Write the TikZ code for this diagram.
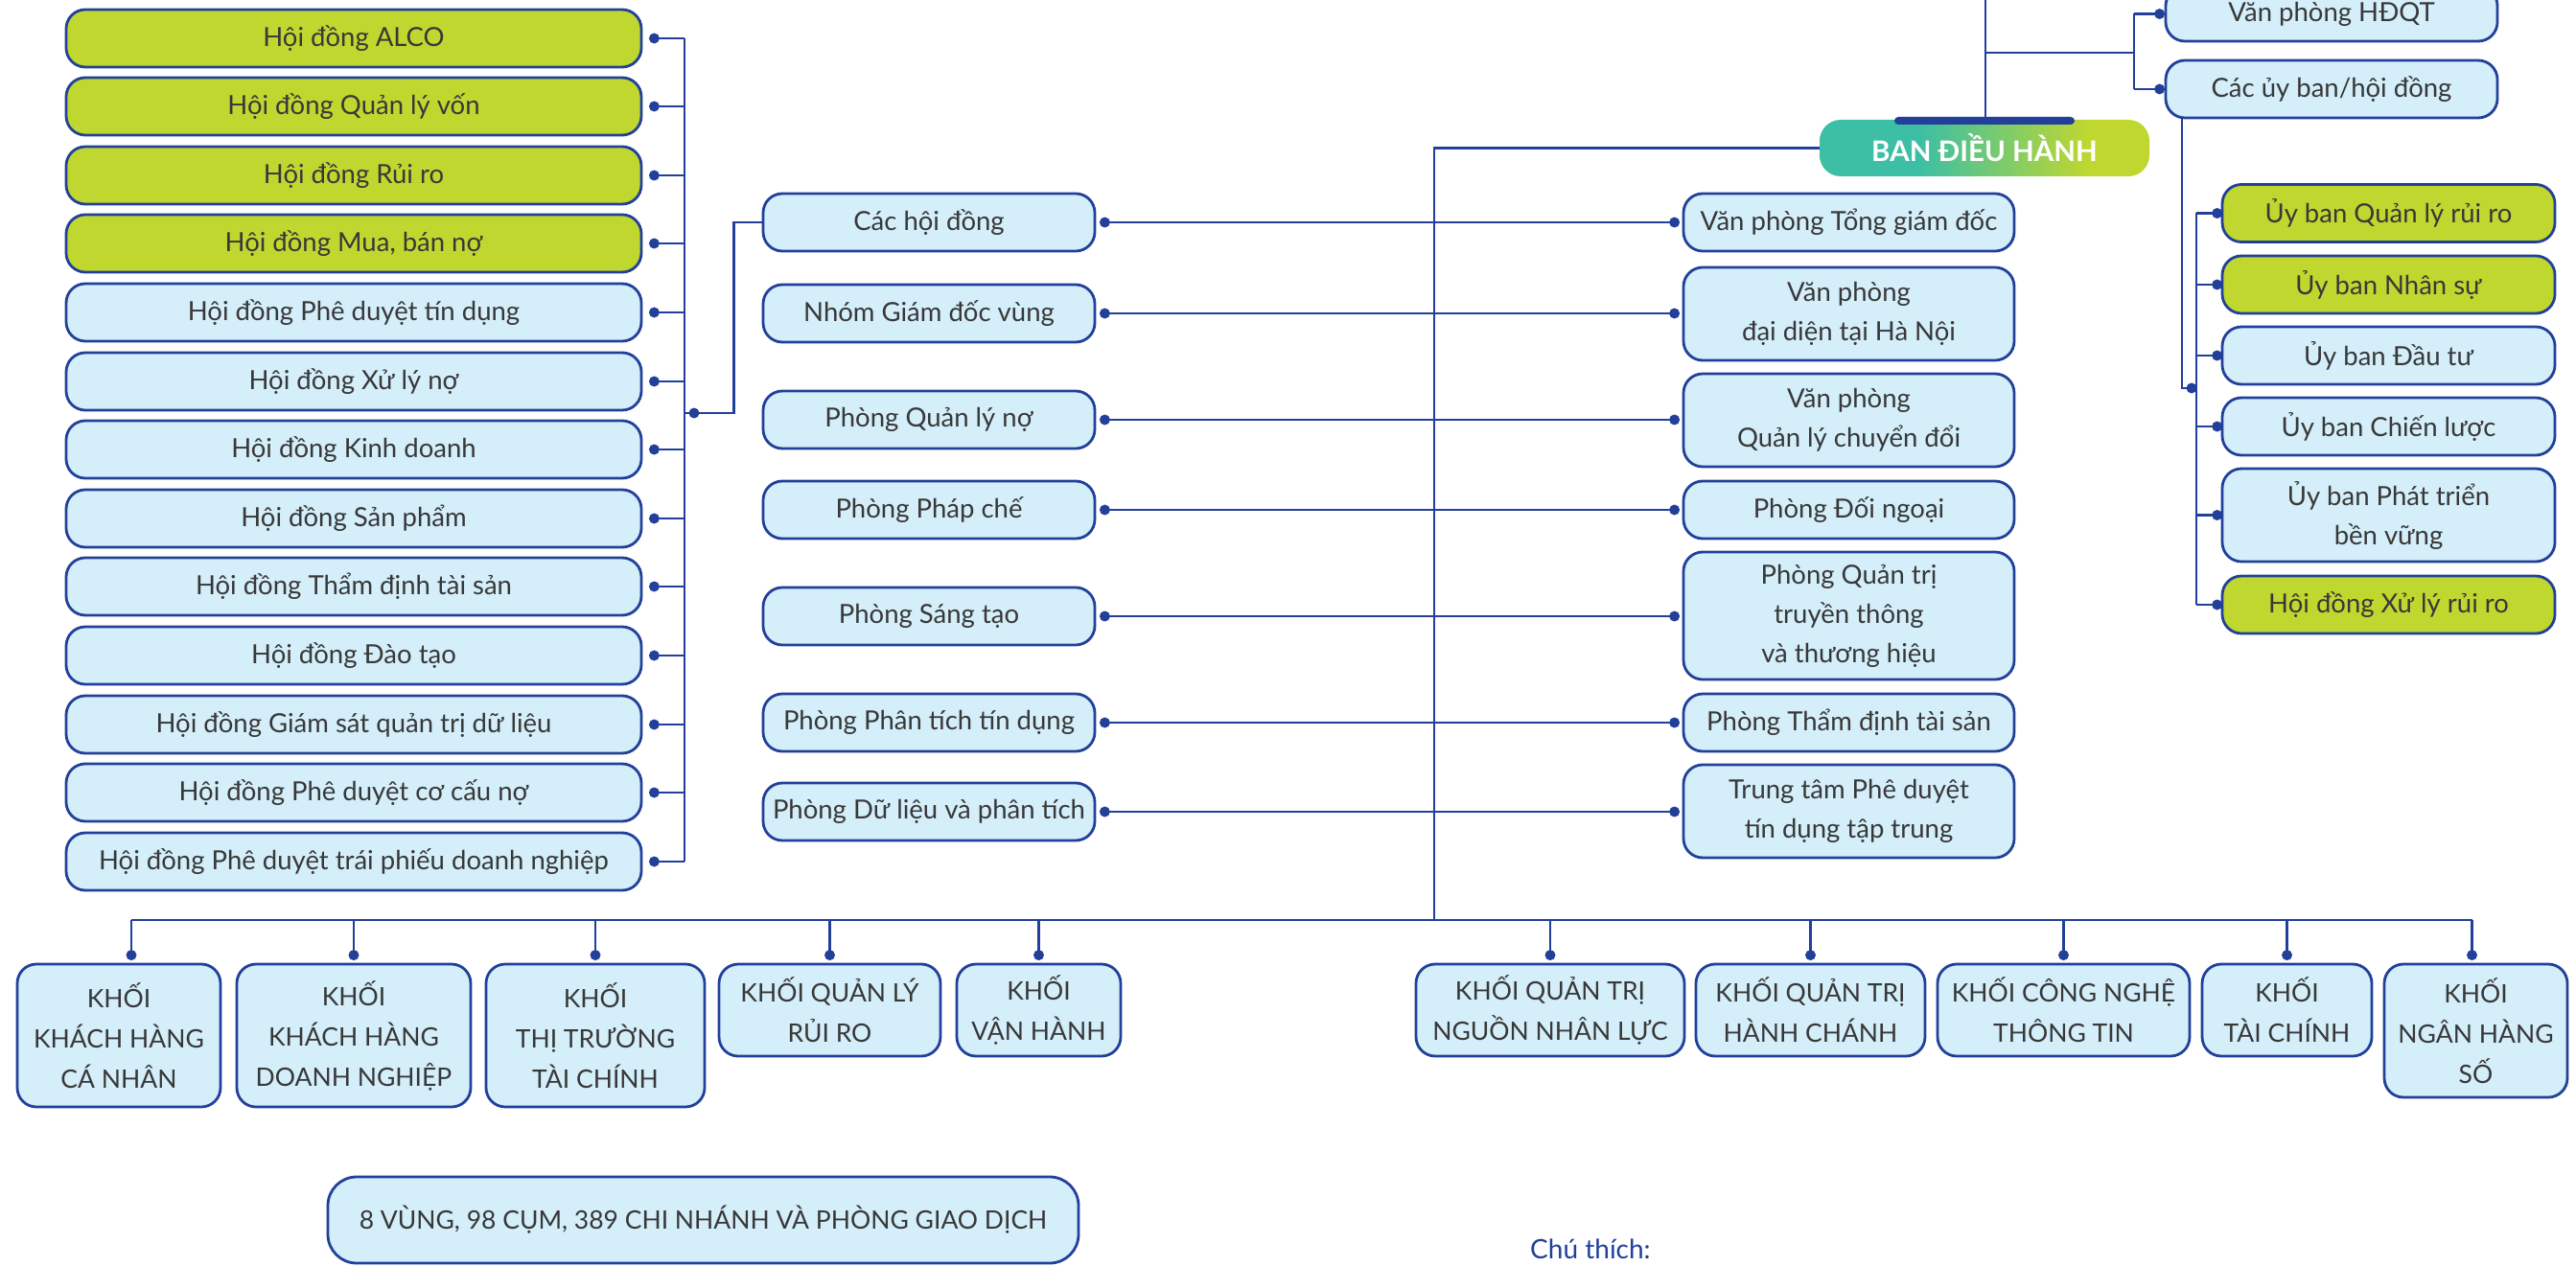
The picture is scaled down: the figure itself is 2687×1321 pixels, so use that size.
\documentclass[tikz,border=0pt]{standalone}
\usepackage{fontspec}
\setmainfont{Lato}
\definecolor{navy}{HTML}{22409A}
\definecolor{boxfill}{HTML}{D4EEFA}
\definecolor{limeg}{HTML}{C0D72F}
\definecolor{tealg}{HTML}{3CBFA5}
\definecolor{txt}{HTML}{383838}
\pgfdeclarehorizontalshading{bdhshade}{100bp}{color(0bp)=(tealg); color(40bp)=(tealg); color(66bp)=(limeg); color(100bp)=(limeg)}
\tikzset{
  bx/.style={draw=navy, line width=2.8pt, fill=boxfill, rounded corners=20pt, inner sep=0pt,
    align=center, text=txt, font=\fontsize{27.5}{41}\selectfont},
  gbx/.style={bx, fill=limeg},
  lbox/.style={minimum width=600pt, minimum height=60pt},
  mbox/.style={minimum width=346pt, minimum height=60pt},
  rbox/.style={minimum width=345pt},
  ubox/.style={minimum width=347pt},
  kbox/.style={bx, font=\fontsize{26.5}{42}\selectfont},
  ln/.style={draw=navy, line width=2.6pt},
}
\newcommand\dt[1]{\fill[navy] #1 circle (5.5pt);}
\begin{document}
\begin{tikzpicture}[x=1pt,y=-1pt]
\useasboundingbox (0,0) rectangle (2687,1321);
% ---------- left column ----------
\node[gbx,lbox] (h1) at (369,40) {Hội đồng ALCO};
\node[gbx,lbox] (h2) at (369,111) {Hội đồng Quản lý vốn};
\node[gbx,lbox] (h3) at (369,183) {Hội đồng Rủi ro};
\node[gbx,lbox] (h4) at (369,254) {Hội đồng Mua, bán nợ};
\node[bx,lbox] (h5) at (369,326) {Hội đồng Phê duyệt tín dụng};
\node[bx,lbox] (h6) at (369,398) {Hội đồng Xử lý nợ};
\node[bx,lbox] (h7) at (369,469) {Hội đồng Kinh doanh};
\node[bx,lbox] (h8) at (369,541) {Hội đồng Sản phẩm};
\node[bx,lbox] (h9) at (369,612) {Hội đồng Thẩm định tài sản};
\node[bx,lbox] (h10) at (369,684) {Hội đồng Đào tạo};
\node[bx,lbox] (h11) at (369,756) {Hội đồng Giám sát quản trị dữ liệu};
\node[bx,lbox] (h12) at (369,827) {Hội đồng Phê duyệt cơ cấu nợ};
\node[bx,lbox] (h13) at (369,899) {Hội đồng Phê duyệt trái phiếu doanh nghiệp};
% ---------- middle column ----------
\node[bx,mbox] (m1) at (969,232) {Các hội đồng};
\node[bx,mbox] (m2) at (969,327) {Nhóm Giám đốc vùng};
\node[bx,mbox] (m3) at (969,438) {Phòng Quản lý nợ};
\node[bx,mbox] (m4) at (969,532) {Phòng Pháp chế};
\node[bx,mbox] (m5) at (969,643) {Phòng Sáng tạo};
\node[bx,mbox] (m6) at (969,754) {Phòng Phân tích tín dụng};
\node[bx,mbox] (m7) at (969,847) {Phòng Dữ liệu và phân tích};
% ---------- right-middle column ----------
\node[bx,rbox,minimum height=60pt] (r1) at (1928.5,232) {Văn phòng Tổng giám đốc};
\node[bx,rbox,minimum height=97pt] (r2) at (1928.5,327.5) {Văn phòng\\đại diện tại Hà Nội};
\node[bx,rbox,minimum height=97pt] (r3) at (1928.5,438.5) {Văn phòng\\Quản lý chuyển đổi};
\node[bx,rbox,minimum height=60pt] (r4) at (1928.5,532) {Phòng Đối ngoại};
\node[bx,rbox,minimum height=133pt] (r5) at (1928.5,642.5) {Phòng Quản trị\\truyền thông\\và thương hiệu};
\node[bx,rbox,minimum height=60pt] (r6) at (1928.5,754) {Phòng Thẩm định tài sản};
\node[bx,rbox,minimum height=97pt] (r7) at (1928.5,846.5) {Trung tâm Phê duyệt\\tín dụng tập trung};
% ---------- top right ----------
\node[bx,minimum width=346pt,minimum height=57pt] (hdqt) at (2432,14.5) {Văn phòng HĐQT};
\node[bx,mbox] (cub) at (2432,93) {Các ủy ban/hội đồng};
\node[shading=bdhshade, rounded corners=22pt, minimum width=344pt, minimum height=59pt, inner sep=0pt,
  text=white, font=\bfseries\fontsize{29.5}{32}\selectfont] (bdh) at (2070,154.5) {BAN ĐIỀU HÀNH};
\node[fill=navy, rounded corners=4pt, minimum width=188pt, minimum height=8pt, inner sep=0pt] (bar) at (2070,126) {};
% ---------- committees ----------
\node[gbx,ubox,minimum height=60pt] (u1) at (2491.5,222.5) {Ủy ban Quản lý rủi ro};
\node[gbx,ubox,minimum height=60pt] (u2) at (2491.5,297) {Ủy ban Nhân sự};
\node[bx,ubox,minimum height=60pt] (u3) at (2491.5,371) {Ủy ban Đầu tư};
\node[bx,ubox,minimum height=60pt] (u4) at (2491.5,445) {Ủy ban Chiến lược};
\node[bx,ubox,minimum height=97pt] (u5) at (2491.5,537.5) {Ủy ban Phát triển\\bền vững};
\node[gbx,ubox,minimum height=60pt] (u6) at (2491.5,631) {Hội đồng Xử lý rủi ro};
% ---------- bottom blocks ----------
\node[kbox,minimum width=212pt,minimum height=149pt] (k1) at (124,1080.5) {KHỐI\\KHÁCH HÀNG\\CÁ NHÂN};
\node[kbox,minimum width=244pt,minimum height=149pt] (k2) at (369,1080.5) {KHỐI\\KHÁCH HÀNG\\DOANH NGHIỆP};
\node[kbox,minimum width=228pt,minimum height=149pt] (k3) at (621,1080.5) {KHỐI\\THỊ TRƯỜNG\\TÀI CHÍNH};
\node[kbox,minimum width=231pt,minimum height=96pt] (k4) at (865.5,1054) {KHỐI QUẢN LÝ\\RỦI RO};
\node[kbox,minimum width=171pt,minimum height=96pt] (k5) at (1083.5,1054) {KHỐI\\VẬN HÀNH};
\node[kbox,minimum width=280pt,minimum height=96pt] (k6) at (1617,1054) {KHỐI QUẢN TRỊ\\NGUỒN NHÂN LỰC};
\node[kbox,minimum width=239pt,minimum height=96pt] (k7) at (1888.5,1054) {KHỐI QUẢN TRỊ\\HÀNH CHÁNH};
\node[kbox,minimum width=263pt,minimum height=96pt] (k8) at (2152.5,1054) {KHỐI CÔNG NGHỆ\\THÔNG TIN};
\node[kbox,minimum width=177pt,minimum height=96pt] (k9) at (2385.5,1054) {KHỐI\\TÀI CHÍNH};
\node[kbox,minimum width=191pt,minimum height=139pt] (k10) at (2582.5,1075.5) {KHỐI\\NGÂN HÀNG\\SỐ};
\node[kbox,rounded corners=30pt,minimum width=783pt,minimum height=90pt] (net) at (733.5,1273) {8 VÙNG, 98 CỤM, 389 CHI NHÁNH VÀ PHÒNG GIAO DỊCH};
\node[anchor=west, inner sep=0pt, text=navy, font=\fontsize{28}{32}\selectfont] (note) at (1596,1303) {Chú thích:};
% ---------- connectors: left column ----------
\coordinate (lb) at (714,0);
\foreach \i in {1,...,13}{
  \draw[ln] ([xshift=12pt]h\i.east) -- (h\i.east -| lb);
  \dt{([xshift=12pt]h\i.east)}
}
\draw[ln] (h1.east -| lb) -- (h13.east -| lb);
\coordinate (lj) at (714,431);
\draw[ln] (lj) -| ([xshift=-29pt]m1.west) -- (m1.west);
\dt{([xshift=10pt]lj)}
% ---------- connectors: middle to right-middle ----------
\foreach \i in {1,...,7}{
  \draw[ln] ([xshift=9pt]m\i.east) -- ([xshift=-8pt]m\i.east -| r\i.west);
  \dt{([xshift=9pt]m\i.east)}
  \dt{([xshift=-8pt]m\i.east -| r\i.west)}
}
% ---------- top connectors ----------
\coordinate (tp) at (2071,0);
\coordinate (tj) at (2071,55);
\coordinate (tv) at (2226,55);
\draw[ln] (tp) -- (tp |- bar.north);
\draw[ln] (tj) -- (tv);
\draw[ln] (hdqt.west -| tv) -- (cub.west -| tv);
\draw[ln] (hdqt.west -| tv) -- ([xshift=-5pt]hdqt.west);
\draw[ln] (cub.west -| tv) -- ([xshift=-5pt]cub.west);
\dt{([xshift=-5pt]hdqt.west)}
\dt{([xshift=-5pt]cub.west)}
% ---------- committees connectors ----------
\coordinate (ud) at (2276,405);
\coordinate (uv) at (2291,405);
\draw[ln] (cub.south -| ud) -- (ud) -- (uv);
\dt{([xshift=10pt]ud)}
\draw[ln] (u1.west -| uv) -- (u6.west -| uv);
\foreach \i in {1,...,6}{
  \draw[ln] (u\i.west -| uv) -- ([xshift=-4pt]u\i.west);
  \dt{([xshift=-4pt]u\i.west)}
}
% ---------- main trunk and blocks bus ----------
\coordinate (bt) at (1496,960);
\draw[ln] (bdh.west) -| (bt);
\draw[ln] ([xshift=13pt]k1.north |- bt) -- ([xshift=-4pt]k10.north |- bt);
\draw[ln] ([xshift=13pt]k1.north |- bt) -- ([xshift=13pt,yshift=8pt]k1.north);
\dt{([xshift=13pt,yshift=8pt]k1.north)}
\foreach \i in {2,...,9}{
  \draw[ln] (k\i.north |- bt) -- ([yshift=8pt]k\i.north);
  \dt{([yshift=8pt]k\i.north)}
}
\draw[ln] ([xshift=-4pt]k10.north |- bt) -- ([xshift=-4pt,yshift=8pt]k10.north);
\dt{([xshift=-4pt,yshift=8pt]k10.north)}
\end{tikzpicture}
\end{document}
